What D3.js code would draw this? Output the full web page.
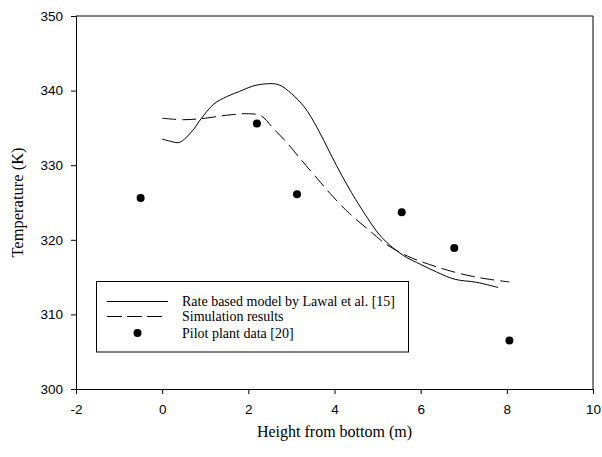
<!DOCTYPE html>
<html lang="en">
<head>
<meta charset="UTF-8">
<title>Temperature profile</title>
<script src="https://d3js.org/d3.v7.min.js"></script>
<style>
  body { margin: 0; background: #fff; }
  svg { display: block; }
</style>
</head>
<body>
<div id="chart"></div>
<script>
// rate based model (solid line)
var rateX = [0, 0.2, 0.4, 0.7, 0.9, 1.2, 1.5, 1.8, 2.1, 2.4, 2.7, 3.0, 3.3, 3.6, 3.9, 4.2, 4.6, 5.1, 5.6, 6.0, 6.4, 6.8, 7.3, 7.8];
var rateY = [333.5, 333.2, 333.05, 334.6, 336.2, 338.2, 339.2, 339.9, 340.6, 340.9, 340.8, 339.6, 337.8, 335.0, 331.6, 328.3, 324.4, 320.3, 317.9, 316.7, 315.6, 314.7, 314.3, 313.6];

// simulation results (dashed line)
var simX = [0, 0.5, 1.0, 1.5, 2.0, 2.3, 2.6, 2.9, 3.2, 3.6, 3.9, 4.35, 4.8, 5.2, 5.7, 6.2, 6.7, 7.2, 7.6, 8.06];
var simY = [336.3, 336.1, 336.3, 336.7, 336.9, 336.6, 334.8, 333.0, 330.9, 328.2, 326.2, 323.5, 321.3, 319.4, 317.8, 316.7, 315.8, 315.1, 314.7, 314.35];

// pilot plant data (dots)
var pilotX = [-0.5, 2.2, 3.13, 5.56, 6.78, 8.06];
var pilotY = [325.6, 335.6, 326.1, 323.7, 318.9, 306.5];

var xTicks = [-2, 0, 2, 4, 6, 8, 10];
var yTicks = [300, 310, 320, 330, 340, 350];

var legendLabels = ["Rate based model by Lawal et al. [15]", "Simulation results", "Pilot plant data [20]"];

var W = 602, H = 457;
var margin = {top: 16, right: 9, bottom: 68, left: 76};
var width = W - margin.left - margin.right,
    height = H - margin.top - margin.bottom;

var serif = "'Liberation Serif', 'Times New Roman', Times, serif";
var sans = "'Liberation Sans', Arial, Helvetica, sans-serif";

var svg = d3.select("#chart").append("svg")
    .attr("width", W)
    .attr("height", H);

var g = svg.append("g")
    .attr("transform", "translate(" + margin.left + "," + margin.top + ")");

var x = d3.scaleLinear().domain([-2, 10]).range([0, width]);
var y = d3.scaleLinear().domain([300, 350]).range([height, 0]);

// frame top and right
g.append("path")
  .attr("d", "M0,0H" + width + "V" + height)
  .attr("fill", "none")
  .attr("stroke", "#000")
  .attr("stroke-width", 1);

var xAxis = g.append("g")
  .attr("transform", "translate(0," + height + ")")
  .call(d3.axisBottom(x).tickValues(xTicks).tickSize(5).tickPadding(10).tickFormat(d3.format("d")));

var yAxis = g.append("g")
  .call(d3.axisLeft(y).tickValues(yTicks).tickSize(5).tickPadding(8).tickFormat(d3.format("d")));

[xAxis, yAxis].forEach(function(a) {
  a.selectAll("text")
    .attr("font-family", sans)
    .attr("font-size", "13.5px")
    .attr("fill", "#000");
  a.selectAll("line, path").attr("stroke", "#000");
});
xAxis.selectAll("text").text(function(d) { return d < 0 ? "-" + Math.abs(d) : d; });

var line = d3.line()
  .x(function(d) { return x(d[0]); })
  .y(function(d) { return y(d[1]); })
  .curve(d3.curveCatmullRom);

g.append("path")
  .datum(d3.zip(rateX, rateY))
  .attr("d", line)
  .attr("fill", "none")
  .attr("stroke", "#000")
  .attr("stroke-width", 1);

g.append("path")
  .datum(d3.zip(simX, simY))
  .attr("d", line)
  .attr("fill", "none")
  .attr("stroke", "#000")
  .attr("stroke-width", 1)
  .attr("stroke-dasharray", "14,6");

g.selectAll(".dot")
  .data(d3.zip(pilotX, pilotY))
  .enter().append("circle")
    .attr("class", "dot")
    .attr("cx", function(d) { return x(d[0]); })
    .attr("cy", function(d) { return y(d[1]); })
    .attr("r", 4)
    .attr("fill", "#000");

// axis titles
svg.append("text")
  .attr("x", margin.left + width / 2)
  .attr("y", 437)
  .attr("text-anchor", "middle")
  .attr("font-family", serif)
  .attr("font-size", "16px")
  .text("Height from bottom (m)");

svg.append("text")
  .attr("transform", "translate(23," + (margin.top + height / 2) + ") rotate(-90)")
  .attr("text-anchor", "middle")
  .attr("font-family", serif)
  .attr("font-size", "16.5px")
  .text("Temperature (K)");

// legend
var legend = svg.append("g");
legend.append("rect")
  .attr("x", 96.5).attr("y", 281.5)
  .attr("width", 312).attr("height", 70.5)
  .attr("fill", "#fff").attr("stroke", "#000").attr("stroke-width", 1);

var rowY = [301.5, 316.5, 333];
legend.append("line")
  .attr("x1", 107).attr("x2", 168).attr("y1", rowY[0]).attr("y2", rowY[0])
  .attr("stroke", "#000");
legend.append("line")
  .attr("x1", 107).attr("x2", 163).attr("y1", rowY[1]).attr("y2", rowY[1])
  .attr("stroke", "#000").attr("stroke-dasharray", "15,5");
legend.append("circle")
  .attr("cx", 137.5).attr("cy", rowY[2]).attr("r", 4).attr("fill", "#000");

legend.selectAll(".lab")
  .data(legendLabels)
  .enter().append("text")
    .attr("class", "lab")
    .attr("x", 182)
    .attr("y", function(d, i) { return rowY[i] + 4.5; })
    .attr("font-family", serif)
    .attr("font-size", "14px")
    .text(function(d) { return d; });
</script>
</body>
</html>
